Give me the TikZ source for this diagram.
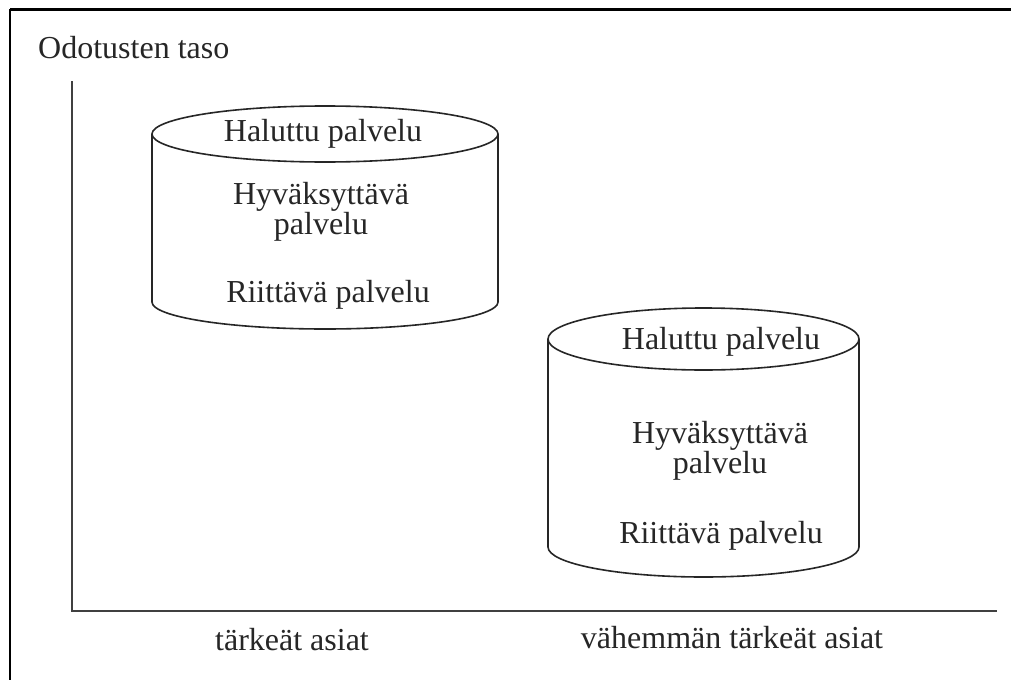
\documentclass[tikz,border=0pt]{standalone}
\usepackage{fontspec}
\setmainfont{Liberation Serif}
\begin{document}
\begin{tikzpicture}[x=1pt,y=-1pt,
  cyl/.style={line width=1.6pt,draw=black!85},
  axisline/.style={line width=1.8pt,draw=black!75},
  frameline/.style={line width=3pt,draw=black},
  lbl/.style={inner sep=0pt,font=\fontsize{32}{29}\selectfont,text=black!85,align=center}]
\useasboundingbox (0,0) rectangle (1011,680);
\fill[white] (0,0) rectangle (1011,680);
% frame (top and left edges only)
\draw[frameline] (10,9) -- (1011,9);
\draw[line width=2pt] (10,9) -- (10,680);
% axes
\coordinate (ytop) at (72,81);
\coordinate (orig) at (72,611);
\coordinate (xend) at (997,611);
\draw[axisline] (ytop) -- (orig) -- (xend);
\node[lbl,anchor=base west] (ylab) at (38,58) {Odotusten taso};
\node[lbl,anchor=base] (x1) at (292,650) {tärkeät asiat};
\node[lbl,anchor=base] (x2) at (732,648) {vähemmän tärkeät asiat};
% left cylinder
\draw[cyl] (325,134) ellipse [x radius=173, y radius=28];
\draw[cyl] (152,134) -- (152,302) arc[start angle=180,end angle=0,x radius=173,y radius=27] -- (498,134);
\node[lbl,anchor=base] (a1) at (323,141) {Haluttu palvelu};
\node[lbl] (a2) at (321,212) {Hyväksyttävä\\palvelu};
\node[lbl,anchor=base] (a3) at (328,302) {Riittävä palvelu};
% right cylinder
\draw[cyl] (703.5,339) ellipse [x radius=155.5, y radius=31];
\draw[cyl] (548,339) -- (548,547) arc[start angle=180,end angle=0,x radius=155.5,y radius=30] -- (859,339);
\node[lbl,anchor=base] (b1) at (721,349) {Haluttu palvelu};
\node[lbl] (b2) at (720,451) {Hyväksyttävä\\palvelu};
\node[lbl,anchor=base] (b3) at (721,543) {Riittävä palvelu};
\end{tikzpicture}
\end{document}
